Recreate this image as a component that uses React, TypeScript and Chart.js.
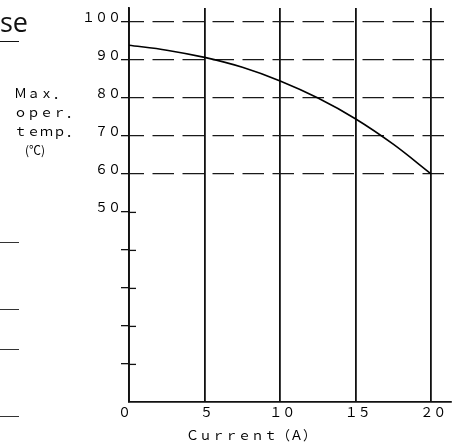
import { useEffect, useRef } from 'react';
import { Chart, registerables } from 'chart.js';

Chart.register(...registerables);

// ---- data ----
const currentA = [0, 2.5, 5, 7.5, 10, 12.5, 15, 17.5, 20];
const maxOperTempC = [93.9, 92.6, 90.7, 88.1, 84.5, 80.0, 74.5, 67.8, 60.0];

const xTickValues = [0, 5, 10, 15, 20];
const xTickLabels = ['０', '５', '１０', '１５', '２０'];
const yTickValues = [0, 10, 20, 30, 40, 50, 60, 70, 80, 90, 100];
const yTickLabels = ['', '', '', '', '', '５０', '６０', '７０', '８０', '９０', '１００'];
const yDashedLineValues = [60, 70, 80, 90, 100];
const xMax = 21.3;
const yMax = 103.7;

const xAxisTitle = 'Ｃｕｒｒｅｎｔ（Ａ）';
const yAxisTitleLines = ['Ｍａｘ．', 'ｏｐｅｒ．', 'ｔｅｍｐ．', '(℃)'];
const headingFragment = 'se';

// ---- style ----
const INK = '#000';
const CJK = "'Noto Sans CJK JP', 'Noto Sans', sans-serif";
const CLEAR = 'rgba(0,0,0,0)';

if (typeof document !== 'undefined') {
  document.body.style.margin = '0';
}

const decorPlugin = {
  id: 'decor',
  beforeDraw(chart: any) {
    chart.ctx.letterSpacing = '0px';
  },
  afterDraw(chart: any) {
    const ctx = chart.ctx;
    const yScale = chart.scales.y;
    const left = chart.chartArea.left;
    ctx.save();
    ctx.strokeStyle = '#111';
    ctx.lineWidth = 1.3;
    yTickValues.forEach((v) => {
      if (v > 0 && !yDashedLineValues.includes(v)) {
        const py = Math.round(yScale.getPixelForValue(v)) + 0.4;
        ctx.beginPath();
        ctx.moveTo(left, py);
        ctx.lineTo(left + 7, py);
        ctx.stroke();
      }
    });
    ctx.restore();
  },
};

export default function App() {
  const ref = useRef<HTMLCanvasElement>(null);

  useEffect(() => {
    document.body.style.margin = '0';
    const chart = new Chart(ref.current as HTMLCanvasElement, {
      type: 'line',
      data: {
        datasets: [
          {
            data: currentA.map((x, i) => ({ x, y: maxOperTempC[i] })),
            borderColor: '#000',
            borderWidth: 1.6,
            pointRadius: 0,
            fill: false,
            tension: 0.4,
            cubicInterpolationMode: 'monotone',
          },
        ],
      },
      options: {
        responsive: false,
        animation: false,
        devicePixelRatio: 1,
        layout: { padding: { top: 8, right: 2, bottom: 0, left: 0 } },
        plugins: { legend: { display: false }, tooltip: { enabled: false } },
        scales: {
          x: {
            type: 'linear',
            min: 0,
            max: xMax,
            afterBuildTicks: (s: any) => {
              s.ticks = xTickValues.map((v) => ({ value: v }));
            },
            afterFit: (s: any) => {
              s.height = 41;
            },
            grid: { color: '#111', lineWidth: 1.8, drawTicks: false },
            border: { color: '#111', width: 1.8 },
            ticks: {
              padding: 2,
              labelOffset: 2,
              color: INK,
              maxRotation: 0,
              autoSkip: false,
              font: { family: CJK, size: 13 },
              callback: (v: any) => {
                const i = xTickValues.indexOf(Number(v));
                if (i < 0) return '';
                return i === 0 ? xTickLabels[i] + '\u3000' : xTickLabels[i];
              },
            },
          },
          y: {
            type: 'linear',
            min: 0,
            max: yMax,
            afterBuildTicks: (s: any) => {
              s.ticks = yTickValues.map((v) => ({ value: v }));
            },
            afterFit: (s: any) => {
              s.width = 129;
            },
            grid: {
              color: (c: any) => (c.tick && yDashedLineValues.includes(c.tick.value) ? '#1a1a1a' : CLEAR),
              lineWidth: 1.3,
              tickLength: 8,
              tickWidth: 1.3,
              tickColor: (c: any) => (c.tick && c.tick.value > 0 ? '#111' : CLEAR),
            },
            border: { color: '#111', width: 1.8, dash: [21.5, 8.5], dashOffset: 7.3 },
            ticks: {
              padding: 0,
              labelOffset: -5,
              color: INK,
              autoSkip: false,
              font: { family: CJK, size: 13 },
              callback: (v: any) => {
                const i = yTickValues.indexOf(Number(v));
                return i >= 0 ? yTickLabels[i] : '';
              },
            },
          },
        },
      },
      plugins: [decorPlugin],
    } as any);
    return () => chart.destroy();
  }, []);

  const txt: any = {
    position: 'absolute',
    fontFamily: CJK,
    fontSize: 13,
    lineHeight: '13px',
    letterSpacing: '0px',
    color: INK,
    whiteSpace: 'nowrap',
    margin: 0,
  };
  const yTitleTops = [85.8, 104.8, 123.8, 142.8];
  const yTitleLefts = [14, 14, 14, 25];
  const sideLines = [242, 309, 349, 416];

  return (
    <div style={{ position: 'relative', width: 453, height: 443, overflow: 'hidden', background: '#fff' }}>
      <canvas ref={ref} width={453} height={443} style={{ position: 'absolute', left: 0, top: 0, display: 'block' }} />
      <div
        style={{
          position: 'absolute',
          left: 0,
          top: 6,
          fontFamily: "'Open Sans', 'Noto Sans', sans-serif",
          fontSize: 27,
          lineHeight: '32px',
          color: '#111',
          whiteSpace: 'nowrap',
        }}
      >
        {headingFragment}
      </div>
      <div style={{ position: 'absolute', left: 0, top: 40.5, width: 19, height: 1.3, background: '#111' }} />
      {yAxisTitleLines.map((line, i) => (
        <div key={line} style={{ ...txt, left: yTitleLefts[i], top: yTitleTops[i], fontSize: i === 3 ? 12 : 13 }}>
          {line}
        </div>
      ))}
      <div style={{ ...txt, left: 186, top: 428.3 }}>{xAxisTitle}</div>
      {sideLines.map((y) => (
        <div key={y} style={{ position: 'absolute', left: 0, top: y, width: 19, height: 1, background: '#333' }} />
      ))}
    </div>
  );
}
